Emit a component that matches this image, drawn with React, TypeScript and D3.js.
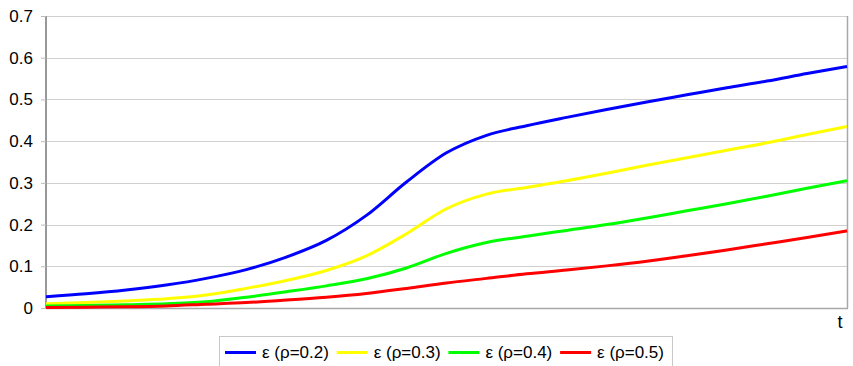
import React, { useEffect, useRef } from "react";
import * as d3 from "d3";

// time steps (arbitrary units, 0..100 across the plot)
const tValues = [0, 5, 10, 15, 20, 25, 30, 35, 40, 45, 50, 55, 60, 65, 70, 75, 80, 85, 90, 95, 100];

const eps02 = [0.027, 0.034, 0.043, 0.055, 0.071, 0.092, 0.122, 0.162, 0.222, 0.302, 0.372, 0.414, 0.437, 0.457, 0.476, 0.494, 0.511, 0.528, 0.544, 0.562, 0.579];
const eps03 = [0.01, 0.013, 0.017, 0.022, 0.031, 0.047, 0.066, 0.09, 0.125, 0.178, 0.238, 0.273, 0.289, 0.305, 0.323, 0.342, 0.36, 0.378, 0.396, 0.416, 0.435];
const eps04 = [0.005, 0.006, 0.008, 0.01, 0.015, 0.026, 0.039, 0.053, 0.07, 0.096, 0.131, 0.157, 0.172, 0.186, 0.2, 0.216, 0.233, 0.25, 0.268, 0.287, 0.305];
const eps05 = [0.001, 0.002, 0.003, 0.005, 0.009, 0.013, 0.019, 0.026, 0.035, 0.047, 0.06, 0.071, 0.082, 0.091, 0.101, 0.112, 0.125, 0.139, 0.154, 0.169, 0.185];

const seriesNames = ["ε (ρ=0.2)", "ε (ρ=0.3)", "ε (ρ=0.4)", "ε (ρ=0.5)"];
const seriesColors = ["#0000ff", "#ffff00", "#00ff00", "#ff0000"];
const yTicks = [0, 0.1, 0.2, 0.3, 0.4, 0.5, 0.6, 0.7];

const WIDTH = 853;
const HEIGHT = 366;
const FONT = "'Liberation Sans', Arial, sans-serif";

export default function App() {
  const ref = useRef<SVGSVGElement | null>(null);

  useEffect(() => {
    const svg = d3.select(ref.current);
    svg.selectAll("*").remove();

    const left = 46;
    const right = 847;
    const top = 16;
    const bottom = 308;

    const x = d3.scaleLinear().domain([0, 100]).range([left, right]);
    const y = d3.scaleLinear().domain([0, 0.7]).range([bottom, top]);

    svg.append("rect").attr("width", WIDTH).attr("height", HEIGHT).attr("fill", "#fff");

    // gridlines
    svg
      .append("g")
      .selectAll("line")
      .data(yTicks.slice(1))
      .join("line")
      .attr("x1", left)
      .attr("x2", right)
      .attr("y1", (d) => Math.round(y(d)) + 0.5)
      .attr("y2", (d) => Math.round(y(d)) + 0.5)
      .attr("stroke", "#d0d0d0")
      .attr("stroke-width", 1);

    // frame: right and bottom
    svg
      .append("line")
      .attr("x1", right + 0.5)
      .attr("x2", right + 0.5)
      .attr("y1", top)
      .attr("y2", bottom)
      .attr("stroke", "#a8a8a8")
      .attr("stroke-width", 1.5);
    svg
      .append("line")
      .attr("x1", left)
      .attr("x2", right + 1)
      .attr("y1", bottom + 0.5)
      .attr("y2", bottom + 0.5)
      .attr("stroke", "#a8a8a8")
      .attr("stroke-width", 1.5);

    // y axis
    const yAxis = svg
      .append("g")
      .attr("transform", `translate(${left},0)`)
      .call(
        d3
          .axisLeft(y)
          .tickValues(yTicks)
          .tickSize(5)
          .tickPadding(8)
          .tickFormat((d) => (d === 0 ? "0" : d3.format(".1f")(d as number)))
      );
    yAxis.select(".domain").attr("stroke", "#999").attr("stroke-width", 2).attr("d", `M0,${top}V${bottom + 1}`);
    yAxis.selectAll(".tick line").attr("stroke", "#bbb");
    yAxis
      .selectAll(".tick text")
      .attr("font-family", FONT)
      .attr("font-size", 17)
      .attr("fill", "#000");

    // series lines
    const data = [eps02, eps03, eps04, eps05];
    const line = d3
      .line<number>()
      .x((_, i) => x(tValues[i]))
      .y((d) => y(d))
      .curve(d3.curveMonotoneX);

    svg
      .append("g")
      .selectAll("path")
      .data(data)
      .join("path")
      .attr("d", (d) => line(d))
      .attr("fill", "none")
      .attr("stroke", (_, i) => seriesColors[i])
      .attr("stroke-width", 3);

    // x axis label
    svg
      .append("text")
      .attr("x", 840)
      .attr("y", 328)
      .attr("text-anchor", "middle")
      .attr("font-family", FONT)
      .attr("font-size", 18)
      .text("t");

    // legend
    const legend = svg.append("g");
    legend
      .append("rect")
      .attr("x", 219.5)
      .attr("y", 336.5)
      .attr("width", 453)
      .attr("height", 40)
      .attr("fill", "#fff")
      .attr("stroke", "#c8c8c8");

    const items = legend
      .selectAll("g.item")
      .data(seriesNames)
      .join("g")
      .attr("class", "item")
      .attr("transform", (_, i) => `translate(${225 + i * 111.7},352.5)`);
    items
      .append("line")
      .attr("x1", 0)
      .attr("x2", 31)
      .attr("stroke", (_, i) => seriesColors[i])
      .attr("stroke-width", 3);
    items
      .append("text")
      .attr("x", 37)
      .attr("dy", "0.35em")
      .attr("font-family", FONT)
      .attr("font-size", 17)
      .text((d) => d);
  }, []);

  return (
    <svg
      ref={ref}
      width={WIDTH}
      height={HEIGHT}
      style={{ position: "absolute", left: 0, top: 0 }}
    />
  );
}
